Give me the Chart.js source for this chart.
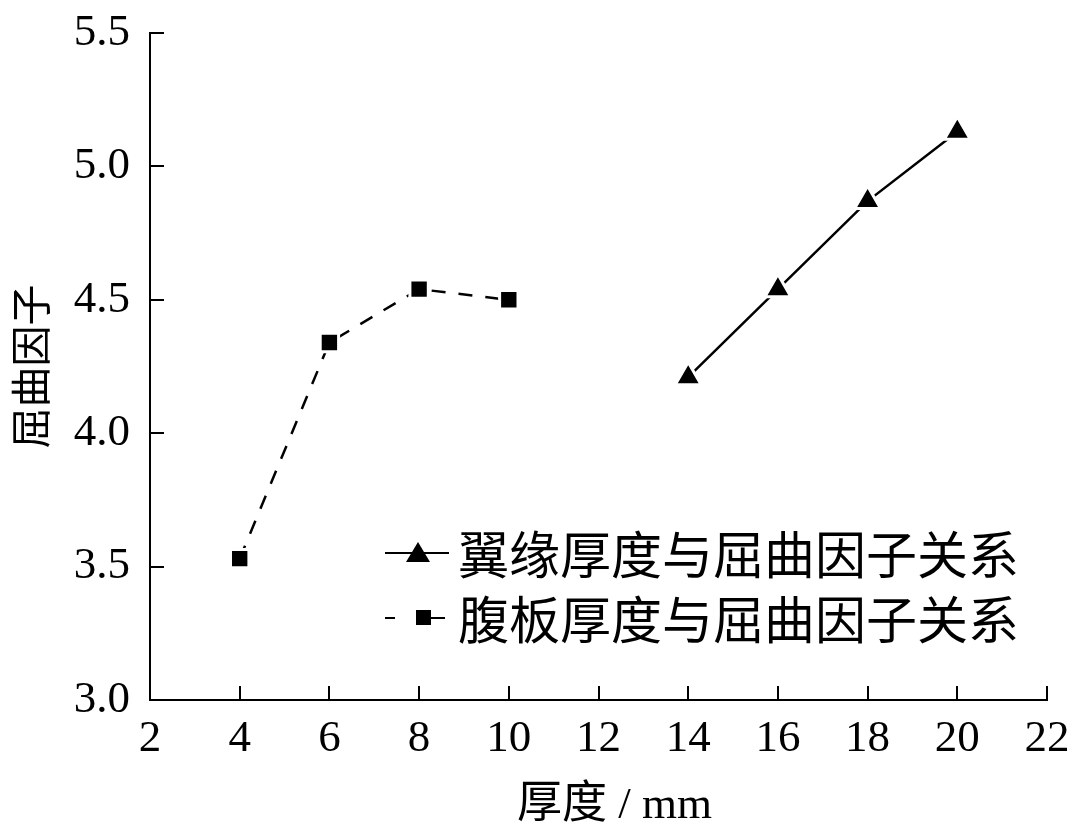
<!DOCTYPE html>
<html>
<head>
<meta charset="utf-8">
<script src="https://cdn.jsdelivr.net/npm/chart.js@4/dist/chart.umd.min.js"></script>
<style>
  html, body { margin: 0; padding: 0; background: #fff; }
  #wrap { width: 1078px; height: 840px; }
</style>
</head>
<body>
<div id="wrap"><canvas id="c" width="1078" height="840"></canvas></div>
<script>
// ---- data ----
const flangeThickness = [14, 16, 18, 20];
const flangeFactor    = [4.21, 4.54, 4.87, 5.13];
const webThickness    = [4, 6, 8, 10];
const webFactor       = [3.53, 4.34, 4.54, 4.50];
const xTickValues     = [2, 4, 6, 8, 10, 12, 14, 16, 18, 20, 22];
const yTickValues     = [3.0, 3.5, 4.0, 4.5, 5.0, 5.5];
const seriesNames     = ['翼缘厚度与屈曲因子关系', '腹板厚度与屈曲因子关系'];
const xTitle = '厚度 / mm';
const yTitle = '屈曲因子';

const SERIF = "'Liberation Serif', 'Times New Roman', 'Noto Sans CJK SC', serif";
const CJK = "'Noto Sans CJK SC', 'Liberation Serif', serif";

// inward tick marks
const innerTicks = {
  id: 'innerTicks',
  afterDraw(chart) {
    const ctx = chart.ctx;
    const xs = chart.scales.x, ys = chart.scales.y;
    const area = chart.chartArea;
    const len = 14;
    ctx.save();
    ctx.strokeStyle = '#000';
    ctx.lineWidth = 2;
    xs.ticks.forEach(t => {
      const px = Math.round(xs.getPixelForValue(t.value));
      if (Math.abs(px - area.left) < 2) return;
      ctx.beginPath();
      ctx.moveTo(px, area.bottom);
      ctx.lineTo(px, area.bottom - len);
      ctx.stroke();
    });
    ys.ticks.forEach(t => {
      const py = Math.round(ys.getPixelForValue(t.value));
      if (Math.abs(py - area.bottom) < 2) return;
      ctx.beginPath();
      ctx.moveTo(area.left, py);
      ctx.lineTo(area.left + len, py);
      ctx.stroke();
    });
    ctx.restore();
  }
};

// legend inside plot area + x-axis title
const innerLegend = {
  id: 'innerLegend',
  afterDraw(chart) {
    const ctx = chart.ctx;
    const area = chart.chartArea;
    const x0 = area.left + 235;
    const rows = [area.top + 520, area.top + 585];
    ctx.save();
    chart.data.datasets.forEach((ds, i) => {
      const y = rows[i];
      ctx.strokeStyle = '#000';
      ctx.fillStyle = '#000';
      ctx.lineWidth = 2;
      ctx.setLineDash([]);
      if (i === 0) {
        ctx.beginPath(); ctx.moveTo(x0, y); ctx.lineTo(x0 + 64, y); ctx.stroke();
        ctx.beginPath();
        ctx.moveTo(x0 + 33, y - 11); ctx.lineTo(x0 + 45, y + 9); ctx.lineTo(x0 + 21, y + 9); ctx.closePath(); ctx.fill();
      } else {
        ctx.beginPath(); ctx.moveTo(x0, y); ctx.lineTo(x0 + 10, y); ctx.stroke();
        ctx.beginPath(); ctx.moveTo(x0 + 46, y); ctx.lineTo(x0 + 60, y); ctx.stroke();
        ctx.fillRect(x0 + 31, y - 8, 15, 15);
      }
      ctx.font = '51px ' + CJK;
      ctx.textBaseline = 'middle';
      ctx.textAlign = 'left';
      ctx.fillText(ds.label, x0 + 73, y + 2);
    });
    // x-axis title
    ctx.font = '45px ' + SERIF;
    ctx.textAlign = 'center';
    ctx.textBaseline = 'middle';
    ctx.fillText(xTitle, (area.left + area.right) / 2 + 16, 806);
    ctx.restore();
  }
};

new Chart(document.getElementById('c'), {
  type: 'scatter',
  data: {
    datasets: [
      {
        label: seriesNames[0],
        data: flangeThickness.map((x, i) => ({x, y: flangeFactor[i]})),
        showLine: true,
        borderColor: '#000',
        borderWidth: 2.5,
        pointStyle: 'triangle',
        pointRadius: 15,
        pointBackgroundColor: '#000',
        pointBorderColor: '#fff',
        pointBorderWidth: 3
      },
      {
        label: seriesNames[1],
        data: webThickness.map((x, i) => ({x, y: webFactor[i]})),
        showLine: true,
        borderColor: '#000',
        borderWidth: 2.5,
        borderDash: [14, 13],
        pointStyle: 'rect',
        pointRadius: 13,
        pointBackgroundColor: '#000',
        pointBorderColor: '#fff',
        pointBorderWidth: 3
      }
    ]
  },
  options: {
    responsive: false,
    animation: false,
    layout: { padding: { top: 33, right: 31, left: 0, bottom: 0 } },
    plugins: {
      legend: { display: false },
      tooltip: { enabled: false }
    },
    scales: {
      x: {
        type: 'linear',
        min: 2, max: 22,
        afterBuildTicks: s => { s.ticks = xTickValues.map(v => ({value: v})); },
        afterFit: s => { s.height = 140; s.paddingLeft = 0; s.paddingRight = 0; },
        grid: { display: true, drawOnChartArea: false, drawTicks: false },
        border: { display: true, color: '#000', width: 2 },
        ticks: { color: '#000', font: { family: SERIF, size: 45 }, padding: 12, maxRotation: 0, autoSkip: false },
        title: { display: false }
      },
      y: {
        type: 'linear',
        min: 3.0, max: 5.5,
        afterBuildTicks: s => { s.ticks = yTickValues.map(v => ({value: v})); },
        afterFit: s => { s.width = 150; s.paddingTop = 0; s.paddingBottom = 0; },
        grid: { display: true, drawOnChartArea: false, drawTicks: false },
        border: { display: true, color: '#000', width: 2 },
        ticks: { color: '#000', font: { family: SERIF, size: 45 }, padding: 20, autoSkip: false,
                 callback: v => Number(v).toFixed(1) },
        title: { display: true, text: yTitle, color: '#000', font: { family: CJK, size: 41 }, padding: { top: 6, bottom: 0 } }
      }
    }
  },
  plugins: [innerTicks, innerLegend]
});
</script>
</body>
</html>
